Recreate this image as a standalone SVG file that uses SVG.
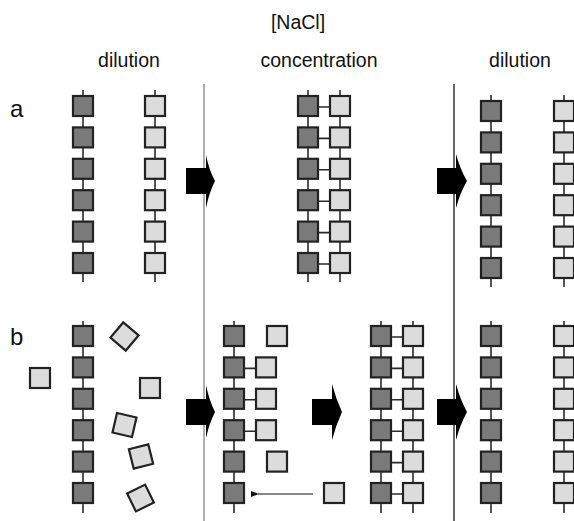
<svg xmlns="http://www.w3.org/2000/svg" width="574" height="521" viewBox="0 0 574 521">
<defs>
<style>
text{font-family:"Liberation Sans",Arial,sans-serif;fill:#111}
.h{font-size:19.5px;text-anchor:middle}
.lab{font-size:24px}
.bb{stroke:#2a2a2a;stroke-width:1.6;fill:none}
.d{fill:#7a7a7a;stroke:#222;stroke-width:2.2}
.l{fill:#dcdcdc;stroke:#222;stroke-width:2.2}
.blk{fill:#000}
</style>
<rect id="s" width="20" height="20"/>
<marker id="ah" viewBox="0 0 10 10" refX="1" refY="5" markerWidth="8" markerHeight="8" orient="auto-start-reverse" markerUnits="userSpaceOnUse">
<path d="M0,5 L10,1 L10,9 Z" fill="#111"/>
</marker>
</defs>
<rect width="574" height="521" fill="#fff"/>

<g id="labels">
<text class="h" x="298" y="29">[NaCl]</text>
<text class="h" x="129" y="67">dilution</text>
<text class="h" x="319" y="67">concentration</text>
<text class="h" x="520" y="67">dilution</text>
<text class="lab" x="10" y="117">a</text>
<text class="lab" x="10" y="345">b</text>
</g>

<g id="separators">
<line x1="204" y1="84" x2="204" y2="521" stroke="#b0b0b0" stroke-width="2"/>
<line x1="454" y1="84" x2="454" y2="521" stroke="#333" stroke-width="1.5"/>
</g>

<!-- Row a -->
<g id="a-left-dark">
<line class="bb" x1="83" y1="90" x2="83" y2="282"/>
<use href="#s" class="d" x="73" y="96"/><use href="#s" class="d" x="73" y="127.4"/><use href="#s" class="d" x="73" y="158.8"/><use href="#s" class="d" x="73" y="190.2"/><use href="#s" class="d" x="73" y="221.6"/><use href="#s" class="d" x="73" y="253"/>
</g>
<g id="a-left-light">
<line class="bb" x1="155" y1="90" x2="155" y2="282"/>
<use href="#s" class="l" x="145" y="96"/><use href="#s" class="l" x="145" y="127.4"/><use href="#s" class="l" x="145" y="158.8"/><use href="#s" class="l" x="145" y="190.2"/><use href="#s" class="l" x="145" y="221.6"/><use href="#s" class="l" x="145" y="253"/>
</g>
<g id="a-mid-duplex">
<line class="bb" x1="308" y1="90" x2="308" y2="282"/>
<line class="bb" x1="340" y1="90" x2="340" y2="282"/>
<path class="bb" d="M318,107H330M318,138.4H330M318,169.8H330M318,201.2H330M318,232.6H330M318,264H330"/>
<use href="#s" class="d" x="298" y="96"/><use href="#s" class="d" x="298" y="127.4"/><use href="#s" class="d" x="298" y="158.8"/><use href="#s" class="d" x="298" y="190.2"/><use href="#s" class="d" x="298" y="221.6"/><use href="#s" class="d" x="298" y="253"/>
<use href="#s" class="l" x="330" y="96"/><use href="#s" class="l" x="330" y="127.4"/><use href="#s" class="l" x="330" y="158.8"/><use href="#s" class="l" x="330" y="190.2"/><use href="#s" class="l" x="330" y="221.6"/><use href="#s" class="l" x="330" y="253"/>
</g>
<g id="a-right-dark">
<line class="bb" x1="491" y1="95" x2="491" y2="287"/>
<use href="#s" class="d" x="481" y="101"/><use href="#s" class="d" x="481" y="132.4"/><use href="#s" class="d" x="481" y="163.8"/><use href="#s" class="d" x="481" y="195.2"/><use href="#s" class="d" x="481" y="226.6"/><use href="#s" class="d" x="481" y="258"/>
</g>
<g id="a-right-light">
<line class="bb" x1="564" y1="95" x2="564" y2="287"/>
<use href="#s" class="l" x="554" y="101"/><use href="#s" class="l" x="554" y="132.4"/><use href="#s" class="l" x="554" y="163.8"/><use href="#s" class="l" x="554" y="195.2"/><use href="#s" class="l" x="554" y="226.6"/><use href="#s" class="l" x="554" y="258"/>
</g>

<!-- Row b -->
<g id="b-left-dark">
<line class="bb" x1="83" y1="321" x2="83" y2="513"/>
<use href="#s" class="d" x="73" y="326"/><use href="#s" class="d" x="73" y="357.4"/><use href="#s" class="d" x="73" y="388.8"/><use href="#s" class="d" x="73" y="420.2"/><use href="#s" class="d" x="73" y="451.6"/><use href="#s" class="d" x="73" y="483"/>
</g>
<g id="b-free-monomers">
<use href="#s" class="l" x="30" y="368"/>
<use href="#s" class="l" x="140" y="378"/>
<use href="#s" class="l" x="-10" y="-10" transform="translate(124.5,336.5) rotate(40)"/>
<use href="#s" class="l" x="-10" y="-10" transform="translate(124.5,425) rotate(13)"/>
<use href="#s" class="l" x="-10" y="-10" transform="translate(141,456.5) rotate(-14)"/>
<use href="#s" class="l" x="-10" y="-10" transform="translate(140.5,498) rotate(-26)"/>
</g>
<g id="b-mid-partial">
<line class="bb" x1="234" y1="321" x2="234" y2="513"/>
<path class="bb" d="M244,368.4H256M244,399.8H256M244,431.2H256"/>
<use href="#s" class="d" x="224" y="326"/><use href="#s" class="d" x="224" y="357.4"/><use href="#s" class="d" x="224" y="388.8"/><use href="#s" class="d" x="224" y="420.2"/><use href="#s" class="d" x="224" y="451.6"/><use href="#s" class="d" x="224" y="483"/>
<use href="#s" class="l" x="256" y="357.4"/><use href="#s" class="l" x="256" y="388.8"/><use href="#s" class="l" x="256" y="420.2"/>
<use href="#s" class="l" x="267" y="326"/><use href="#s" class="l" x="267" y="451.6"/><use href="#s" class="l" x="324" y="483"/>
</g>
<g id="b-midright-duplex">
<line class="bb" x1="381" y1="321" x2="381" y2="513"/>
<line class="bb" x1="413" y1="321" x2="413" y2="513"/>
<path class="bb" d="M391,337H403M391,368.4H403M391,399.8H403M391,431.2H403M391,462.6H403M391,494H403"/>
<use href="#s" class="d" x="371" y="326"/><use href="#s" class="d" x="371" y="357.4"/><use href="#s" class="d" x="371" y="388.8"/><use href="#s" class="d" x="371" y="420.2"/><use href="#s" class="d" x="371" y="451.6"/><use href="#s" class="d" x="371" y="483"/>
<use href="#s" class="l" x="403" y="326"/><use href="#s" class="l" x="403" y="357.4"/><use href="#s" class="l" x="403" y="388.8"/><use href="#s" class="l" x="403" y="420.2"/><use href="#s" class="l" x="403" y="451.6"/><use href="#s" class="l" x="403" y="483"/>
</g>
<g id="b-right-dark">
<line class="bb" x1="491" y1="321" x2="491" y2="513"/>
<use href="#s" class="d" x="481" y="326"/><use href="#s" class="d" x="481" y="357.4"/><use href="#s" class="d" x="481" y="388.8"/><use href="#s" class="d" x="481" y="420.2"/><use href="#s" class="d" x="481" y="451.6"/><use href="#s" class="d" x="481" y="483"/>
</g>
<g id="b-right-light">
<line class="bb" x1="564" y1="321" x2="564" y2="513"/>
<use href="#s" class="l" x="554" y="326"/><use href="#s" class="l" x="554" y="357.4"/><use href="#s" class="l" x="554" y="388.8"/><use href="#s" class="l" x="554" y="420.2"/><use href="#s" class="l" x="554" y="451.6"/><use href="#s" class="l" x="554" y="483"/>
</g>

<g id="connectors">
<path class="blk" d="M186,168H206V155Q209,170 215,181Q209,193 206,208V194H186Z"/>
<path class="blk" d="M437,168H456V154Q460,169 467,181Q460,193 456,208V194H437Z"/>
<path class="blk" d="M186,399H206V385Q209,400 215,412Q209,424 206,438V425H186Z"/>
<path class="blk" d="M312,399H332V384Q336,399 342,412Q336,425 332,440V425H312Z"/>
<path class="blk" d="M437,399H456V384Q460,399 467,412Q460,425 456,440V425H437Z"/>
<line x1="313" y1="494" x2="258" y2="494" stroke="#111" stroke-width="1.2" marker-end="url(#ah)"/>
</g>
</svg>
